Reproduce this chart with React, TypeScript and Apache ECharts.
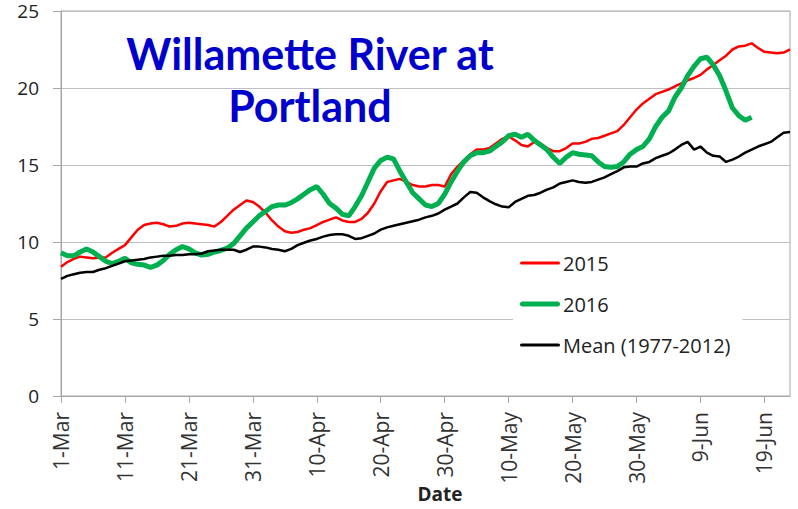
import React, { useEffect, useRef } from "react";
import * as echarts from "echarts";

const monthNames = ["Mar", "Apr", "May", "Jun"];
const monthLengths = [31, 30, 31, 30];
const dayCount = 115;
const categories: string[] = [];
monthNames.forEach((m, i) => {
  for (let d = 1; d <= monthLengths[i]; d++) categories.push(`${d}-${m}`);
});
const dates = categories.slice(0, dayCount);

const yTicks = [0, 5, 10, 15, 20, 25];

const temp2015 = [
  8.4, 8.7, 8.9, 9.05, 9.0, 8.95, 9.0, 9.0, 9.3, 9.55,
  9.8, 10.3, 10.8, 11.1, 11.2, 11.25, 11.15, 11.0, 11.05, 11.2,
  11.25, 11.2, 11.15, 11.1, 11.0, 11.3, 11.7, 12.1, 12.4, 12.7,
  12.6, 12.3, 11.9, 11.4, 11.0, 10.7, 10.6, 10.65, 10.8, 10.9,
  11.1, 11.3, 11.45, 11.6, 11.4, 11.3, 11.3, 11.5, 11.9, 12.5,
  13.3, 13.9, 14.0, 14.1, 13.9, 13.7, 13.6, 13.6, 13.7, 13.7,
  13.6, 14.4, 14.9, 15.3, 15.7, 16.0, 16.0, 16.1, 16.4, 16.7,
  16.85, 16.6, 16.3, 16.2, 16.5, 16.4, 16.1, 15.9, 15.9, 16.1,
  16.4, 16.4, 16.5, 16.7, 16.75, 16.9, 17.05, 17.2, 17.6, 18.1,
  18.6, 19.0, 19.3, 19.6, 19.75, 19.9, 20.1, 20.3, 20.5, 20.65,
  20.85, 21.2, 21.5, 21.8, 22.1, 22.5, 22.7, 22.75, 22.9, 22.6,
  22.35, 22.3, 22.25, 22.3, 22.5,
];

const temp2016 = [
  9.3, 9.1, 9.1, 9.35, 9.55, 9.35, 9.05, 8.75, 8.6, 8.75,
  8.95, 8.65, 8.55, 8.5, 8.35, 8.5, 8.8, 9.2, 9.5, 9.7,
  9.55, 9.3, 9.15, 9.2, 9.35, 9.45, 9.6, 9.9, 10.4, 10.9,
  11.3, 11.7, 12.0, 12.3, 12.4, 12.4, 12.55, 12.8, 13.1, 13.4,
  13.6, 13.1, 12.5, 12.2, 11.8, 11.7, 12.3, 13.0, 13.9, 14.8,
  15.3, 15.5, 15.4, 14.6, 13.9, 13.2, 12.8, 12.4, 12.3, 12.5,
  13.1, 13.9, 14.6, 15.2, 15.6, 15.8, 15.8, 15.9, 16.2, 16.5,
  16.9, 17.0, 16.8, 17.0, 16.6, 16.3, 16.0, 15.5, 15.1, 15.5,
  15.8, 15.7, 15.65, 15.6, 15.2, 14.9, 14.85, 14.9, 15.2, 15.7,
  16.0, 16.2, 16.7, 17.5, 18.1, 18.5, 19.4, 20.0, 20.8, 21.4,
  21.9, 22.0, 21.5, 20.8, 19.8, 18.7, 18.2, 17.9, 18.1,
];

const tempMean = [
  7.6, 7.8, 7.9, 8.0, 8.05, 8.05, 8.2, 8.3, 8.45, 8.6,
  8.75, 8.8, 8.85, 8.9, 9.0, 9.05, 9.1, 9.1, 9.15, 9.15,
  9.2, 9.2, 9.25, 9.4, 9.45, 9.5, 9.5, 9.5, 9.35, 9.5,
  9.7, 9.7, 9.65, 9.55, 9.5, 9.4, 9.55, 9.8, 9.95, 10.1,
  10.2, 10.35, 10.45, 10.5, 10.5, 10.4, 10.2, 10.25, 10.4, 10.55,
  10.8, 10.95, 11.05, 11.15, 11.25, 11.35, 11.45, 11.6, 11.7, 11.85,
  12.1, 12.3, 12.5, 12.9, 13.25, 13.2, 12.9, 12.65, 12.45, 12.3,
  12.25, 12.6, 12.8, 13.0, 13.05, 13.2, 13.4, 13.55, 13.8, 13.9,
  14.0, 13.9, 13.85, 13.9, 14.05, 14.2, 14.4, 14.6, 14.85, 14.9,
  14.9, 15.1, 15.2, 15.45, 15.6, 15.75, 16.0, 16.3, 16.5, 16.0,
  16.2, 15.8, 15.6, 15.55, 15.2, 15.35, 15.55, 15.8, 16.0, 16.2,
  16.35, 16.5, 16.8, 17.1, 17.15,
];

const seriesNames = ["2015", "2016", "Mean (1977-2012)"];
const seriesColors = ["#FF0000", "#00B050", "#000000"];
const titleLines = ["Willamette River at", "Portland"];

export default function App() {
  const ref = useRef<HTMLDivElement>(null);
  useEffect(() => {
    document.body.style.margin = "0";
    if (!ref.current) return;
    const chart = echarts.init(ref.current, null, { renderer: "svg" });
    const axisGray = "#A6A6A6";
    const gridGray = "#BFBFBF";
    const iconPaths = [
      "path://M1.5,0H38.5A1.5,1.5,0,0,1,38.5,3H1.5A1.5,1.5,0,0,1,1.5,0Z",
      "path://M2.5,0H37.5A2.5,2.5,0,0,1,37.5,5H2.5A2.5,2.5,0,0,1,2.5,0Z",
      "path://M1.6,0H38.4A1.6,1.6,0,0,1,38.4,3.2H1.6A1.6,1.6,0,0,1,1.6,0Z",
    ];
    chart.setOption({
      animation: false,
      backgroundColor: "#ffffff",
      grid: {
        left: 61,
        right: 8,
        top: 11,
        bottom: 113,
        show: true,
        borderColor: axisGray,
        borderWidth: 1,
      },
      xAxis: {
        type: "category",
        data: dates,
        boundaryGap: false,
        axisLine: { lineStyle: { color: axisGray, width: 1 } },
        axisTick: { show: true, interval: 9, length: 7, lineStyle: { color: axisGray } },
        axisLabel: {
          interval: 9,
          rotate: 90,
          margin: 16,
          fontFamily: "Open Sans",
          fontSize: 21,
          color: "#333",
        },
        splitLine: { show: false },
      },
      yAxis: {
        type: "value",
        min: yTicks[0],
        max: yTicks[yTicks.length - 1],
        interval: 5,
        axisLine: { show: true, lineStyle: { color: axisGray, width: 1 } },
        axisTick: { show: true, length: 8, lineStyle: { color: axisGray } },
        axisLabel: {
          margin: 22,
          fontFamily: "Open Sans",
          fontSize: 19,
          lineHeight: 19,
          color: "#222",
        },
        splitLine: { show: true, lineStyle: { color: gridGray, width: 1 } },
      },
      legend: {
        orient: "vertical",
        left: 513,
        top: 245,
        padding: [8, 12, 8, 7],
        backgroundColor: "#ffffff",
        itemWidth: 40,
        itemHeight: 14,
        itemGap: 21,
        symbolKeepAspect: true,
        textStyle: { fontFamily: "Open Sans", fontSize: 20, color: "#222", padding: [0, 0, 0, -2] },
        data: seriesNames.map((n, i) => ({
          name: n,
          icon: iconPaths[i],
          itemStyle: { color: seriesColors[i], borderWidth: 0 },
        })),
      },
      graphic: [
        {
          type: "text",
          x: 310,
          y: 53,
          style: {
            text: titleLines[0],
            fill: "#0000CC",
            font: "bold 43px Lato",
            textAlign: "center",
            textVerticalAlign: "middle",
          },
        },
        {
          type: "text",
          x: 310,
          y: 105,
          style: {
            text: titleLines[1],
            fill: "#0000CC",
            font: "bold 43px Lato",
            textAlign: "center",
            textVerticalAlign: "middle",
          },
        },
        {
          type: "text",
          x: 440,
          y: 494,
          style: {
            text: "Date",
            fill: "#222",
            font: "bold 19px 'Open Sans'",
            textAlign: "center",
            textVerticalAlign: "middle",
          },
        },
      ],
      series: [
        {
          name: seriesNames[0],
          type: "line",
          data: temp2015,
          symbol: "none",
          lineStyle: { color: seriesColors[0], width: 2.5 },
          itemStyle: { color: seriesColors[0] },
        },
        {
          name: seriesNames[1],
          type: "line",
          data: temp2016,
          symbol: "none",
          lineStyle: { color: seriesColors[1], width: 5 },
          itemStyle: { color: seriesColors[1] },
        },
        {
          name: seriesNames[2],
          type: "line",
          data: tempMean,
          symbol: "none",
          lineStyle: { color: seriesColors[2], width: 2.5 },
          itemStyle: { color: seriesColors[2] },
        },
      ],
    });
    return () => chart.dispose();
  }, []);
  return <div ref={ref} style={{ width: 798, height: 509 }} />;
}
